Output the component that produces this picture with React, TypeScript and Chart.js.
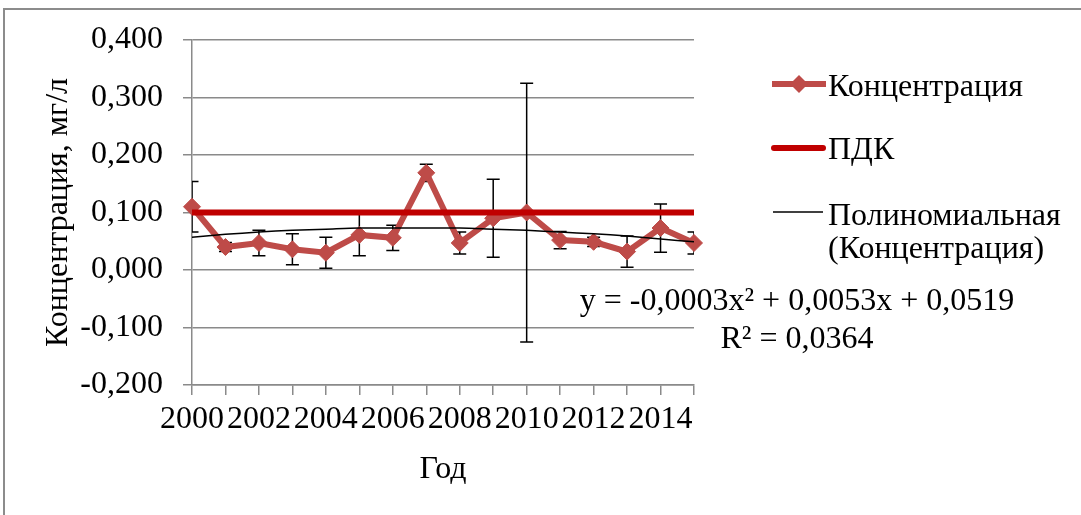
import React, { useEffect, useRef } from 'react';
import { Chart, registerables } from 'chart.js';

Chart.register(...registerables);

const years = ['2000', '2001', '2002', '2003', '2004', '2005', '2006', '2007', '2008', '2009', '2010', '2011', '2012', '2013', '2014', '2015'];
const concentration = [0.110, 0.040, 0.047, 0.036, 0.030, 0.061, 0.056, 0.169, 0.047, 0.090, 0.100, 0.052, 0.049, 0.032, 0.073, 0.047];
const errorSize = [0.044, 0.008, 0.022, 0.027, 0.027, 0.036, 0.022, 0.015, 0.019, 0.068, 0.225, 0.015, 0.008, 0.027, 0.042, 0.019];
const pdk = [0.1, 0.1, 0.1, 0.1, 0.1, 0.1, 0.1, 0.1, 0.1, 0.1, 0.1, 0.1, 0.1, 0.1, 0.1, 0.1];
const trend = [0.057, 0.062, 0.066, 0.069, 0.071, 0.073, 0.073, 0.073, 0.073, 0.071, 0.069, 0.066, 0.063, 0.059, 0.054, 0.049];

const yMin = -0.2;
const yMax = 0.4;
const yStep = 0.1;

const seriesLabels = ['Концентрация', 'ПДК', 'Полиномиальная', '(Концентрация)'];
const equationLines = ['y = -0,0003x² + 0,0053x + 0,0519', 'R² = 0,0364'];
const yTitle = 'Концентрация, мг/л';
const xTitle = 'Год';

const FONT = "'Liberation Serif', 'Times New Roman', serif";
const FS = 32;
const CONC_COLOR = '#BE4B48';
const PDK_COLOR = '#C00000';
const GRID = '#8A8A8A';

const errorBarsPlugin = {
  id: 'errorBars',
  beforeDatasetsDraw(chart: any) {
    const { ctx, chartArea, scales } = chart;
    const xs = scales.x;
    const ys = scales.y;
    ctx.save();
    ctx.beginPath();
    ctx.rect(chartArea.left, chartArea.top - 50, chartArea.right - chartArea.left, chartArea.bottom - chartArea.top + 100);
    ctx.clip();
    ctx.strokeStyle = '#000';
    ctx.lineWidth = 1.5;
    concentration.forEach((v, i) => {
      const x = xs.getPixelForValue(i);
      const yt = ys.getPixelForValue(v + errorSize[i]);
      const yb = ys.getPixelForValue(v - errorSize[i]);
      ctx.beginPath();
      ctx.moveTo(x, yt);
      ctx.lineTo(x, yb);
      ctx.moveTo(x - 6.5, yt);
      ctx.lineTo(x + 6.5, yt);
      ctx.moveTo(x - 6.5, yb);
      ctx.lineTo(x + 6.5, yb);
      ctx.stroke();
    });
    ctx.restore();
  },
};

const annotationsPlugin = {
  id: 'customLegend',
  afterDraw(chart: any) {
    const { ctx } = chart;
    ctx.save();
    ctx.font = `${FS}px ${FONT}`;
    ctx.fillStyle = '#000';
    ctx.textBaseline = 'alphabetic';
    ctx.textAlign = 'left';

    // item 1
    ctx.strokeStyle = CONC_COLOR;
    ctx.lineWidth = 6;
    ctx.beginPath();
    ctx.moveTo(772, 84);
    ctx.lineTo(826, 84);
    ctx.stroke();
    ctx.fillStyle = CONC_COLOR;
    ctx.beginPath();
    ctx.moveTo(799, 75);
    ctx.lineTo(808, 84);
    ctx.lineTo(799, 93);
    ctx.lineTo(790, 84);
    ctx.closePath();
    ctx.fill();
    ctx.fillStyle = '#000';
    ctx.fillText(seriesLabels[0], 828, 96);

    // item 2
    ctx.strokeStyle = PDK_COLOR;
    ctx.lineWidth = 6;
    ctx.lineCap = 'round';
    ctx.beginPath();
    ctx.moveTo(774, 148);
    ctx.lineTo(823, 148);
    ctx.stroke();
    ctx.lineCap = 'butt';
    ctx.fillText(seriesLabels[1], 828, 159);

    // item 3
    ctx.strokeStyle = '#000';
    ctx.lineWidth = 1.5;
    ctx.beginPath();
    ctx.moveTo(773, 212);
    ctx.lineTo(823, 212);
    ctx.stroke();
    ctx.fillText(seriesLabels[2], 828, 225);
    ctx.fillText(seriesLabels[3], 828, 258);

    // equation
    ctx.textAlign = 'center';
    ctx.fillText(equationLines[0], 797, 310);
    ctx.fillText(equationLines[1], 797, 348);
    ctx.restore();
  },
};

export default function App() {
  const ref = useRef<HTMLCanvasElement | null>(null);

  useEffect(() => {
    if (!ref.current) return;
    const chart = new Chart(ref.current, {
      type: 'line',
      data: {
        labels: years,
        datasets: [
          {
            label: 'Полиномиальная (Концентрация)',
            data: trend,
            borderColor: '#000',
            borderWidth: 1.5,
            pointRadius: 0,
            tension: 0.3,
            fill: false,
            order: 1,
            clip: false,
          } as any,
          {
            label: 'ПДК',
            data: pdk,
            borderColor: PDK_COLOR,
            borderWidth: 6,
            pointRadius: 0,
            fill: false,
            order: 2,
            clip: false,
          },
          {
            label: 'Концентрация',
            data: concentration,
            borderColor: CONC_COLOR,
            backgroundColor: CONC_COLOR,
            borderWidth: 6,
            pointStyle: 'rectRot',
            pointRadius: 8.5,
            pointBorderWidth: 1,
            pointBorderColor: CONC_COLOR,
            pointBackgroundColor: CONC_COLOR,
            fill: false,
            order: 3,
            clip: false,
          },
        ],
      },
      options: {
        responsive: false,
        animation: false,
        devicePixelRatio: 1,
        layout: { padding: { left: 0, top: 40, right: 1081 - 694, bottom: 0 } },
        plugins: {
          legend: { display: false },
          tooltip: { enabled: false },
        },
        scales: {
          x: {
            type: 'category',
            offset: false,
            grid: {
              display: true,
              drawOnChartArea: false,
              drawTicks: true,
              tickLength: 10,
              color: GRID,
              lineWidth: 1.5,
            },
            border: { display: true, color: GRID, width: 1.5 },
            ticks: {
              autoSkip: false,
              maxRotation: 0,
              minRotation: 0,
              padding: 5,
              color: '#000',
              font: { family: FONT, size: FS },
              callback: (_v: any, i: number) => (i % 2 === 0 ? years[i] : ''),
            },
            title: {
              display: true,
              text: xTitle,
              color: '#000',
              font: { family: FONT, size: FS },
              padding: { top: 0, bottom: 26 },
            },
            afterFit: (scale: any) => {
              scale.height = 130;
            },
          },
          y: {
            min: yMin,
            max: yMax,
            grid: {
              color: GRID,
              lineWidth: 1.5,
              drawTicks: true,
              tickLength: 9,
            },
            border: { display: true, color: GRID, width: 1.5 },
            ticks: {
              stepSize: yStep,
              padding: 20,
              color: '#000',
              font: { family: FONT, size: FS },
              callback: (v: any) => (Math.round(Number(v) * 1000) / 1000).toFixed(3).replace('.', ','),
            },
            title: {
              display: true,
              text: yTitle,
              color: '#000',
              font: { family: FONT, size: FS },
              padding: { top: 39, bottom: 0 },
            },
            afterFit: (scale: any) => {
              scale.width = 192;
            },
          },
        },
      },
      plugins: [errorBarsPlugin, annotationsPlugin],
    });
    return () => chart.destroy();
  }, []);

  return (
    <div style={{ position: 'fixed', left: 0, top: 0, width: 1081, height: 515, background: '#fff', overflow: 'hidden' }}>
      <div style={{ position: 'absolute', left: 3, top: 8, width: 1100, height: 540, border: '2px solid #8C8C8C' }} />
      <canvas ref={ref} width={1081} height={515} style={{ position: 'absolute', left: 0, top: 0, display: 'block' }} />
    </div>
  );
}
